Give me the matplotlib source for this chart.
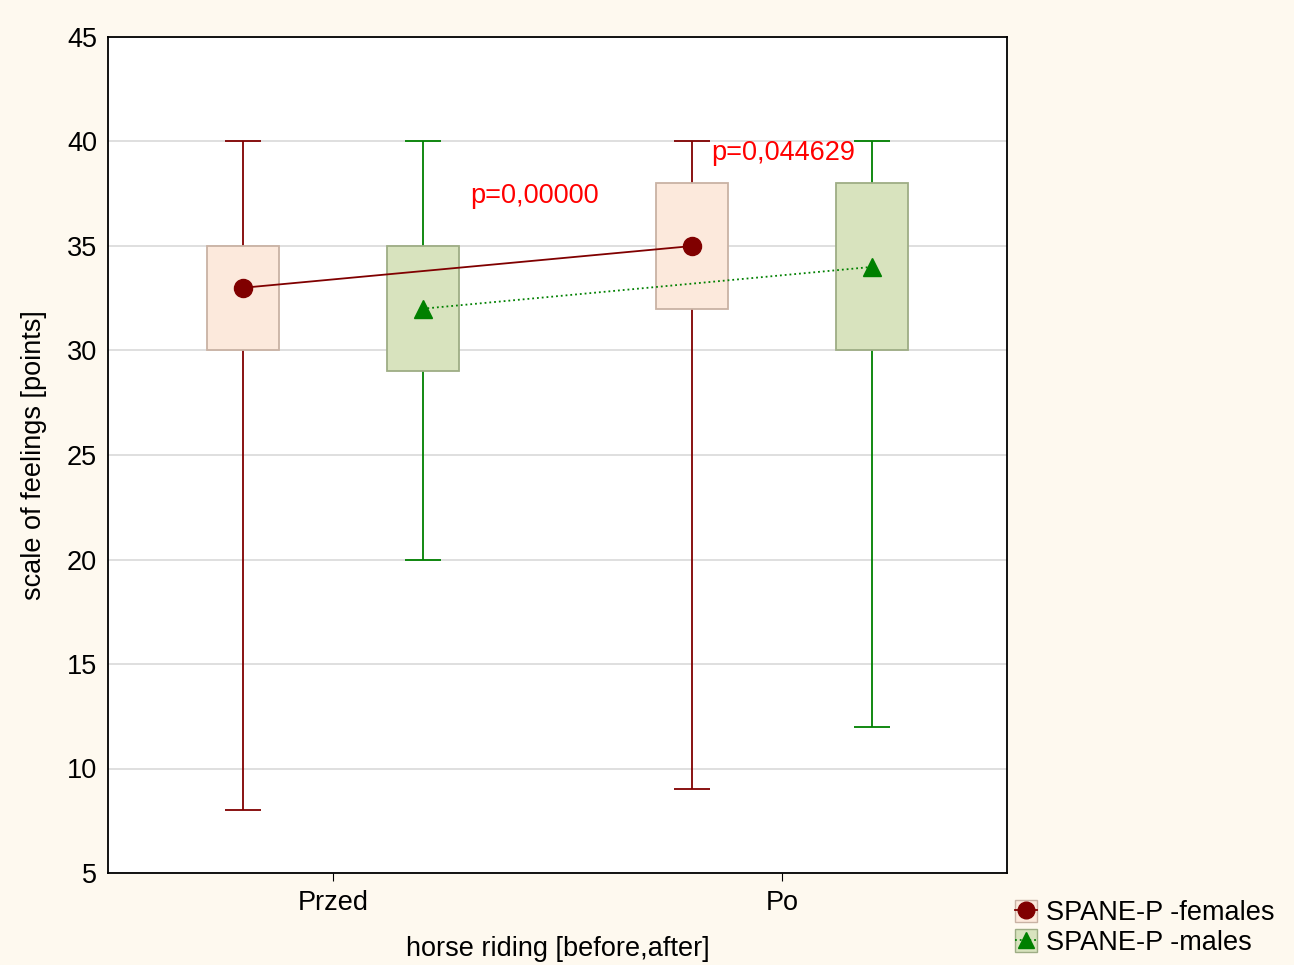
import numpy as np
import matplotlib.pyplot as plt
from matplotlib.patches import Patch
from matplotlib.lines import Line2D

plt.rcParams['font.family'] = ['Liberation Sans', 'DejaVu Sans']

categories = ['Przed', 'Po']
# females: median, q1, q3, min, max
fem_med = [33, 35]
fem_q1 = [30, 32]
fem_q3 = [35, 38]
fem_min = [8, 9]
fem_max = [40, 40]
# males
mal_med = [32, 34]
mal_q1 = [29, 30]
mal_q3 = [35, 38]
mal_min = [20, 12]
mal_max = [40, 40]

bg = '#FEF9EF'
fs = 19.5
fig = plt.figure(figsize=(12.94, 9.65), dpi=100, facecolor=bg)
ax = fig.add_axes([108/1294, 1 - 873/965, 899/1294, 836/965])

x = np.arange(len(categories))
off = 0.2
bw = 0.16
cw = 0.08


def draw(xs, med, q1, q3, lo, hi, col, fill, edge, marker, ls):
    for xi, m, a, b, l, h in zip(xs, med, q1, q3, lo, hi):
        ax.vlines(xi, l, a, color=col, lw=1.3, zorder=2)
        ax.vlines(xi, b, h, color=col, lw=1.3, zorder=2)
        ax.hlines([l, h], xi - cw / 2, xi + cw / 2, color=col, lw=1.3, zorder=2)
        ax.add_patch(plt.Rectangle((xi - bw / 2, a), bw, b - a, facecolor=fill,
                                   edgecolor=edge, lw=1.3, zorder=3))
    ax.plot(xs, med, color=col, ls=ls, lw=1.3, marker=marker, ms=13, zorder=4)


draw(x - off, fem_med, fem_q1, fem_q3, fem_min, fem_max,
     '#800000', '#FCE9DC', '#C9B2A4', 'o', '-')
draw(x + off, mal_med, mal_q1, mal_q3, mal_min, mal_max,
     '#008000', '#D8E3BE', '#9EAD85', '^', ':')

ax.text(0.305, 37.4, 'p=0,00000', color='red', fontsize=fs, va='center', zorder=5)
ax.text(0.841, 39.45, 'p=0,044629', color='red', fontsize=fs, va='center', zorder=5)

ax.set_xlim(-0.5, 1.5)
ax.set_ylim(5, 45)
ax.set_yticks(range(5, 46, 5))
ax.set_xticks(x)
ax.set_xticklabels(categories)
ax.tick_params(labelsize=fs, direction='in', length=0, pad=8)
ax.tick_params(axis='x', direction='out', length=6, pad=6.5)
ax.grid(axis='y', color='#D9D9D9', lw=1.2, zorder=0)
ax.set_axisbelow(True)
for s in ax.spines.values():
    s.set_linewidth(1.3)
ax.set_xlabel('horse riding [before,after]', fontsize=fs, labelpad=14)
ax.set_ylabel('scale of feelings [points]', fontsize=fs, labelpad=14)

h1 = (Patch(facecolor='#FCE9DC', edgecolor='#C9B2A4'),
      Line2D([], [], color='#800000', marker='o', ms=12, lw=1.3))
h2 = (Patch(facecolor='#D8E3BE', edgecolor='#9EAD85'),
      Line2D([], [], color='#008000', marker='^', ms=12, lw=1.3, ls=':'))
fig.legend([h1, h2], ['SPANE-P -females', 'SPANE-P -males'],
           loc='lower left', bbox_to_anchor=(1015/1294, 9/965), frameon=False,
           borderpad=0, borderaxespad=0,
           fontsize=fs, handlelength=0.8, handleheight=0.9, handletextpad=0.35,
           labelspacing=0.12)

fig.savefig('out.png', dpi=100, facecolor=bg)
